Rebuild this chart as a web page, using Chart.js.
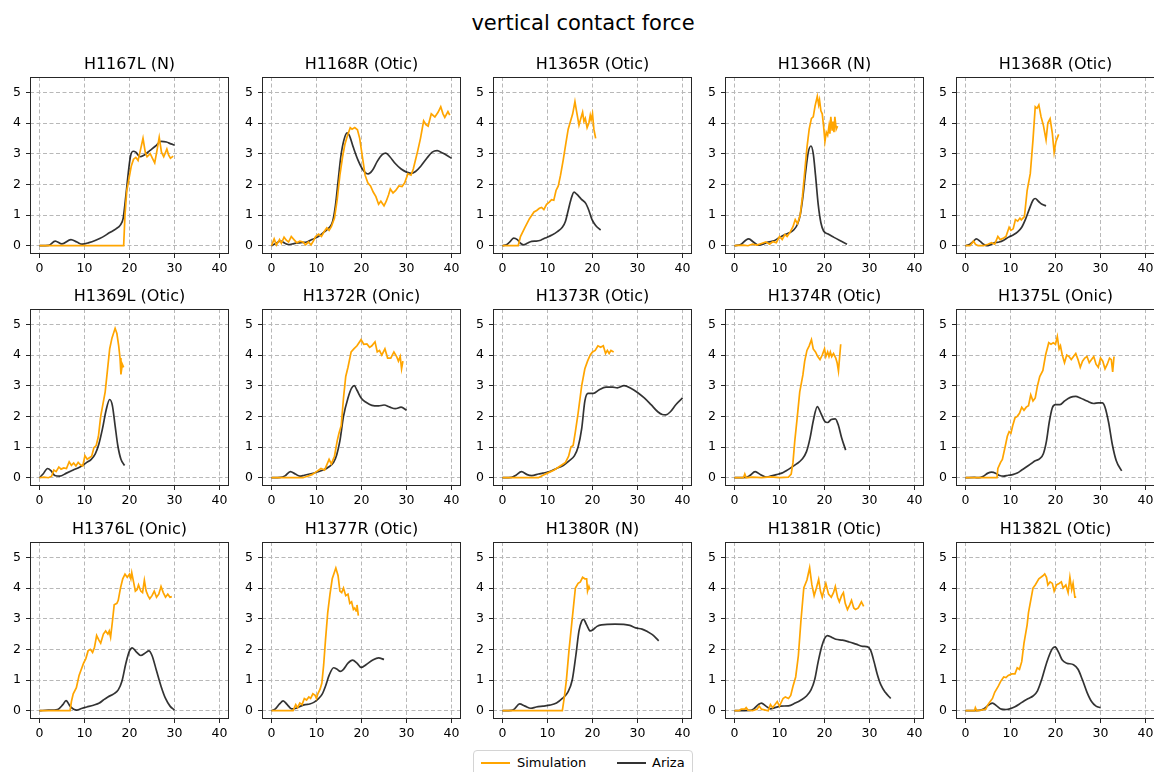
<!DOCTYPE html>
<html lang="en">
<head>
<meta charset="UTF-8">
<title>vertical contact force</title>
<script src="https://cdn.jsdelivr.net/npm/chart.js"></script>
<style>
    body {
        margin: 0;
        background: #fff;
        font-family: 'DejaVu Sans', sans-serif;
    }
    #page {
        position: relative;
        width: 1154px;
        height: 772px;
        overflow: hidden;
    }
    #suptitle {
        position: absolute;
        left: 0;
        width: 1166px;
        top: 11px;
        text-align: center;
        font-size: 21px;
        color: #000;
    }
    canvas {
        position: absolute;
    }
    .legend {
        position: absolute;
        left: 473px;
        top: 750px;
        width: 218px;
        height: 30px;
        border: 1px solid #d4d4d4;
        border-radius: 4px;
        background: #fff;
        font-size: 13px;
        color: #000;
    }
    .legend span {
        position: absolute;
        top: 4px;
    }
    .legend i {
        position: absolute;
        top: 11px;
        width: 29px;
        height: 2px;
    }
</style>
</head>
<body>
<div id="page">
    <div id="suptitle">vertical contact force</div>
    <div class="legend">
        <i style="left:7px;background:#ffa500"></i><span style="left:43px">Simulation</span>
        <i style="left:143px;background:#333"></i><span style="left:178px">Ariza</span>
    </div>
</div>

<script>
// subplot titles, in grid order
const titles = [
    'H1167L (N)', 'H1168R (Otic)', 'H1365R (Otic)', 'H1366R (N)', 'H1368R (Otic)',
    'H1369L (Otic)', 'H1372R (Onic)', 'H1373R (Otic)', 'H1374R (Otic)', 'H1375L (Onic)',
    'H1376L (Onic)', 'H1377R (Otic)', 'H1380R (N)', 'H1381R (Otic)', 'H1382L (Otic)'
];
const seriesNames = ['Simulation', 'Ariza'];
const xTicks = [0, 10, 20, 30, 40];
const yTicks = [0, 1, 2, 3, 4, 5];

// [x, y] samples
const sim1167 = [[0,0],[18.7,0],[19.0,1.0],[19.4,1.8],[19.9,2.2],[20.4,2.6],[20.9,2.82],[21.4,2.88],[21.9,2.78],[22.4,3.1],[23.0,3.5],[23.5,3.05],[23.9,2.9],[24.6,3.0],[25.1,2.85],[25.6,2.7],[26.1,3.1],[26.6,3.53],[27.1,3.05],[27.6,2.9],[28.3,3.15],[28.7,2.95],[29.1,2.85],[29.7,2.92]];
const ari1167 = [[0,0],[2,0.01],[3.5,0.15],[5,0.06],[7,0.2],[8.3,0.12],[9.5,0.05],[11,0.1],[12.5,0.18],[14,0.28],[15.5,0.42],[17,0.55],[18,0.68],[18.6,0.9],[19.1,1.5],[19.6,2.2],[20.2,2.9],[20.8,3.08],[21.4,3.05],[22.3,2.9],[23.2,2.95],[24.5,3.1],[25.8,3.25],[27,3.4],[28.2,3.38],[29.2,3.32],[30,3.28]];

const sim1168 = [[0,0],[0.6,0.22],[1.1,0.02],[1.8,0.2],[2.2,0.08],[2.8,0.28],[3.3,0.18],[3.8,0.12],[4.4,0.3],[5.0,0.2],[5.6,0.1],[6.3,0.15],[7.0,0.12],[7.6,0.03],[8.2,0.12],[8.8,0.03],[9.3,0.15],[9.8,0.3],[10.5,0.38],[11.1,0.3],[11.8,0.48],[12.3,0.58],[12.8,0.5],[13.3,0.62],[14.0,0.9],[14.6,1.5],[15.2,2.3],[15.8,2.9],[16.3,3.3],[16.9,3.6],[17.5,3.85],[17.9,3.8],[18.5,3.85],[19.1,3.78],[19.6,3.5],[20.2,2.9],[20.8,2.3],[21.4,2.05],[22.0,1.95],[22.6,1.75],[23.2,1.6],[23.8,1.35],[24.3,1.45],[25.0,1.3],[25.5,1.45],[26.0,1.65],[26.4,1.85],[27.0,1.72],[27.6,1.8],[28.3,1.95],[29.0,1.93],[29.6,2.05],[30.3,2.35],[31.0,2.3],[31.5,2.5],[32.0,2.8],[32.5,3.1],[33.1,3.5],[33.8,4.07],[34.3,3.95],[34.8,3.9],[35.5,4.3],[36.3,4.2],[37.0,4.35],[37.6,4.53],[38.1,4.3],[38.5,4.18],[39.2,4.37],[39.6,4.26]];
const ari1168 = [[0,0],[1,0.08],[2,0.15],[3,0.08],[3.8,0.04],[5,0.07],[6.5,0.1],[8,0.13],[9,0.2],[10.4,0.3],[11.7,0.45],[12.9,0.6],[13.6,0.8],[14.2,1.3],[14.8,2.1],[15.4,2.9],[16.1,3.45],[16.8,3.68],[17.3,3.6],[18.2,3.2],[19.2,2.8],[20.3,2.48],[21.5,2.34],[22.4,2.45],[23.5,2.75],[24.6,2.97],[25.4,3.02],[26.3,2.9],[27.5,2.68],[28.8,2.5],[30,2.4],[31,2.36],[32,2.42],[33.2,2.6],[34.5,2.85],[35.7,3.05],[36.8,3.1],[38,3.02],[39,2.94],[40,2.85]];

const sim1365 = [[0,0],[3.5,0],[4,0.3],[5,0.6],[6,0.88],[7,1.1],[7.6,1.15],[8.2,1.22],[8.7,1.25],[9.2,1.18],[9.8,1.35],[10.4,1.42],[10.9,1.5],[11.4,1.48],[11.9,1.8],[12.4,1.95],[12.9,2.3],[13.5,2.8],[14.1,3.35],[14.6,3.8],[15.1,4.05],[15.6,4.3],[16.1,4.7],[16.5,4.35],[17.0,3.93],[17.4,4.15],[17.8,4.35],[18.1,4.05],[18.4,4.15],[18.8,3.85],[19.2,4.0],[19.5,4.25],[19.7,4.1],[20.0,4.3],[20.3,3.8],[20.7,3.5]];
const ari1365 = [[0,0],[1,0.04],[1.8,0.15],[2.5,0.25],[3.3,0.2],[4,0.08],[4.7,0.03],[5.5,0.08],[6.5,0.14],[7.5,0.15],[8.5,0.18],[9.5,0.25],[11,0.35],[12.2,0.46],[13.3,0.6],[14,0.8],[14.6,1.15],[15.2,1.5],[15.9,1.75],[16.5,1.68],[17.5,1.52],[18.5,1.38],[19.2,1.15],[19.9,0.85],[20.7,0.66],[21.8,0.51]];

const sim1366 = [[0,0],[2,0.02],[3,0.0],[4,0.05],[5,0.02],[6,0.07],[7,0.12],[7.8,0.05],[8.5,0.13],[9.3,0.1],[10,0.3],[10.6,0.2],[11.2,0.36],[11.7,0.3],[12.4,0.45],[13,0.62],[13.5,0.85],[14,0.72],[14.6,1.0],[15.1,1.6],[15.6,2.4],[16.1,3.2],[16.6,3.8],[17.1,4.15],[17.5,4.2],[17.9,4.55],[18.4,4.87],[18.7,4.6],[18.9,4.75],[19.2,4.4],[19.5,4.3],[19.8,3.9],[20.1,3.4],[20.4,3.7],[20.7,3.6],[21.0,3.9],[21.2,3.65],[21.4,4.2],[21.7,3.75],[21.9,4.05],[22.1,3.7],[22.3,4.2],[22.6,3.8],[22.9,3.9]];
const ari1366 = [[0,0],[1.5,0.05],[2.5,0.18],[3.2,0.22],[4.2,0.12],[5.3,0.02],[6.5,0.06],[7.5,0.12],[8.8,0.16],[9.8,0.25],[11,0.35],[12.2,0.42],[13.2,0.52],[14,0.7],[14.6,1.0],[15.2,1.6],[15.8,2.4],[16.4,3.05],[17,3.25],[17.5,3.0],[18,2.3],[18.6,1.35],[19.2,0.75],[19.8,0.48],[20.8,0.38],[22,0.28],[23.4,0.17],[25,0.05]];

const sim1368 = [[0,0],[1,0],[1.8,0.15],[2.2,0.05],[2.8,0],[4,0],[5,0.05],[5.8,0.1],[6.5,0.05],[7.2,0.3],[7.7,0.2],[8.5,0.25],[9,0.3],[9.7,0.6],[10.1,0.5],[10.6,0.55],[11.1,0.85],[11.6,0.8],[12.1,0.9],[12.4,0.84],[13.1,0.95],[13.7,1.8],[14.4,2.35],[15.0,3.45],[15.5,4.53],[15.9,4.48],[16.3,4.59],[16.8,4.2],[17.3,3.93],[17.9,3.45],[18.3,4.0],[18.8,4.14],[19.3,3.66],[19.7,3.04],[20.1,3.4],[20.7,3.63]];
const ari1368 = [[0,0],[1,0.05],[1.8,0.15],[2.4,0.22],[3.2,0.15],[4,0.05],[4.7,0.0],[5.5,0.03],[6.5,0.1],[7.5,0.12],[8.5,0.18],[9.6,0.28],[10.6,0.35],[11.6,0.45],[12.5,0.6],[13.3,0.85],[14.2,1.2],[15,1.48],[15.5,1.54],[16.2,1.45],[17,1.35],[17.9,1.3]];

const sim1369 = [[0,0],[1,0.02],[2,0.0],[2.7,0.05],[3.2,0.25],[3.7,0.2],[4.3,0.35],[4.8,0.28],[5.4,0.32],[6,0.3],[6.6,0.52],[7.1,0.4],[7.6,0.48],[8.1,0.38],[8.6,0.5],[9.1,0.42],[9.6,0.38],[10.1,0.72],[10.6,0.6],[11.1,0.65],[11.6,0.7],[12.1,0.98],[12.6,1.05],[13.1,1.35],[13.6,2.0],[14.1,2.4],[14.6,2.8],[15.1,3.5],[15.6,4.2],[16.1,4.55],[16.8,4.87],[17.2,4.7],[17.6,4.3],[17.9,3.9],[18.1,3.37],[18.4,3.7],[18.7,3.6]];
const ari1369 = [[0,0],[0.8,0.12],[1.8,0.3],[2.6,0.22],[3.4,0.07],[4.5,0.05],[6,0.15],[7.5,0.25],[9,0.35],[10.5,0.5],[11.5,0.6],[12.4,0.78],[13.2,1.1],[14,1.6],[14.8,2.2],[15.6,2.55],[16.2,2.35],[16.8,1.7],[17.4,1.05],[18.1,0.6],[18.9,0.4]];

const sim1372 = [[0,0],[7,0],[8,0.05],[9,0.1],[10,0.2],[11,0.3],[11.8,0.25],[12.8,0.6],[13.3,0.45],[14,0.7],[14.6,1.2],[15,1.45],[15.5,1.7],[16,2.6],[16.5,3.3],[17,3.6],[17.7,4.1],[18.3,4.2],[19,4.3],[19.9,4.5],[20.5,4.35],[21.2,4.36],[21.8,4.25],[22.3,4.3],[23,4.43],[23.5,4.1],[24,4.15],[24.5,4.0],[25.2,4.2],[25.8,3.9],[26.5,3.9],[27.2,4.1],[27.8,3.95],[28.2,3.8],[28.6,3.95],[28.9,3.55],[29.2,3.8]];
const ari1372 = [[0,0],[2,0.01],[3,0.06],[4.2,0.2],[5.3,0.12],[6.3,0.05],[7.3,0.08],[8.5,0.12],[10,0.18],[11.5,0.25],[12.7,0.35],[13.8,0.5],[14.5,0.75],[15.2,1.2],[16,2.0],[17,2.6],[17.8,2.92],[18.4,3.0],[19,2.85],[20,2.58],[21,2.46],[22.3,2.36],[23.8,2.34],[25,2.37],[26.3,2.3],[27.5,2.25],[28.8,2.3],[30,2.2]];

const sim1373 = [[0,0],[8,0],[9,0.08],[10,0.15],[11.5,0.25],[12.5,0.35],[14,0.5],[14.7,0.7],[15.2,1.0],[15.7,1.05],[16.2,1.5],[16.8,2.1],[17.6,3.0],[18.3,3.55],[18.9,3.8],[19.5,4.0],[20,4.1],[20.6,4.15],[21.2,4.3],[21.8,4.25],[22.4,4.3],[22.9,4.05],[23.3,4.15],[23.7,4.05],[24.1,4.15],[24.7,4.1]];
const ari1373 = [[0,0],[2,0.01],[3,0.08],[4.2,0.2],[5.5,0.1],[6.5,0.07],[8,0.12],[9,0.15],[10.5,0.2],[12,0.3],[13.5,0.4],[14.8,0.55],[16,0.72],[16.8,1.0],[17.6,1.6],[18.3,2.5],[19,2.75],[20.2,2.75],[21.5,2.87],[23,2.95],[24.5,2.95],[25.5,2.93],[27,3.0],[28.5,2.92],[30,2.78],[31.5,2.6],[33,2.38],[34.5,2.15],[35.5,2.06],[36.3,2.05],[37.3,2.15],[38.5,2.38],[40,2.6]];

const sim1374 = [[0,0],[2,0],[2.3,0.12],[2.6,0],[4,0.02],[6,0],[8,0.03],[10,0],[12,0.02],[12.6,0.12],[13.0,0.5],[13.4,1.2],[13.9,1.9],[14.5,2.8],[15.2,3.35],[15.6,3.8],[16.1,4.15],[16.6,4.3],[17.1,4.5],[17.5,4.2],[18,4.1],[18.5,3.95],[19,3.85],[19.5,4.0],[20,4.2],[20.3,3.95],[20.7,4.1],[21,3.95],[21.3,4.1],[21.6,3.95],[22,4.05],[22.5,3.9],[22.8,3.75],[23.1,3.48],[23.4,4.0],[23.6,4.35]];
const ari1374 = [[0,0],[2.5,0.01],[3.4,0.07],[4.6,0.2],[5.8,0.1],[7,0.02],[8,0.05],[9.3,0.1],[10.5,0.15],[11.5,0.23],[12.5,0.32],[13.8,0.45],[15,0.6],[16,0.85],[16.8,1.3],[17.5,1.85],[18.4,2.32],[19.2,2.1],[20,1.85],[20.7,1.8],[21.5,1.9],[22.4,1.92],[23.1,1.7],[23.8,1.3],[24.7,0.9]];

const sim1375 = [[0,0],[7,0],[7.2,0.3],[7.8,0.5],[8.2,0.6],[8.8,1.0],[9.3,1.35],[9.7,1.5],[10.1,1.45],[10.5,1.7],[11,1.95],[11.5,2.0],[12,2.1],[12.5,2.3],[13,2.2],[13.5,2.3],[14,2.35],[14.5,2.7],[15,2.5],[15.5,2.6],[16,3.0],[16.5,3.3],[17.2,3.5],[17.8,4.0],[18.5,4.4],[19,4.35],[19.5,4.4],[20,4.35],[20.4,4.6],[20.8,4.2],[21.1,4.3],[21.5,4.0],[22,3.75],[22.5,4.0],[23,3.95],[23.5,3.85],[24,3.95],[24.5,4.05],[25,3.85],[25.5,3.6],[26,3.8],[26.5,3.9],[27,3.95],[27.5,3.75],[28,3.85],[28.5,3.95],[29,3.7],[29.5,3.6],[30,3.9],[30.5,3.8],[31,3.55],[31.5,3.7],[32,3.9],[32.4,3.85],[32.7,3.45],[33,3.95]];
const ari1375 = [[0,0],[2,0.01],[3,0.0],[4,0.05],[5,0.15],[5.8,0.18],[6.8,0.14],[7.6,0.07],[8.5,0.05],[9.5,0.08],[10.5,0.1],[11.5,0.15],[12.5,0.25],[13.5,0.35],[14.5,0.45],[15.5,0.55],[16.5,0.62],[17.3,0.78],[18,1.2],[18.6,1.8],[19.3,2.28],[20,2.38],[21,2.38],[22,2.5],[23.3,2.62],[24.5,2.65],[25.5,2.6],[27,2.5],[28.5,2.42],[29.5,2.44],[30.4,2.44],[31,2.3],[31.8,1.8],[32.6,1.1],[33.5,0.55],[34.7,0.22]];

const sim1376 = [[0,0],[6.8,0],[7.1,0.3],[7.5,0.55],[8.2,0.75],[8.8,1.15],[9.3,1.35],[9.8,1.55],[10.3,1.7],[10.8,1.95],[11.3,2.0],[11.8,1.9],[12.2,2.05],[12.7,2.45],[13.2,2.3],[13.6,2.2],[14.2,2.5],[14.7,2.6],[15.2,2.5],[15.5,2.6],[15.8,2.4],[16.2,2.9],[16.6,3.45],[17.2,3.5],[17.5,3.6],[18,4.0],[18.5,4.3],[19,4.45],[19.5,4.35],[20,4.45],[20.3,4.3],[20.5,4.5],[20.9,4.2],[21.3,3.9],[21.7,3.95],[22,4.1],[22.5,3.9],[22.9,3.85],[23.3,4.25],[23.7,3.9],[24.1,3.75],[24.5,3.65],[25,3.75],[25.5,3.9],[26,3.7],[26.5,3.8],[27,4.05],[27.5,3.85],[28,3.7],[28.5,3.8],[29,3.7],[29.4,3.72]];
const ari1376 = [[0,0],[2,0.02],[4,0.04],[5.2,0.2],[5.9,0.33],[6.8,0.15],[7.6,0.05],[8.3,0.02],[9.5,0.08],[10.5,0.12],[12,0.18],[13.3,0.25],[14.2,0.35],[15.2,0.45],[16.5,0.55],[17.5,0.68],[18.3,0.95],[19.2,1.55],[20,1.95],[20.6,2.05],[21.5,1.92],[22.5,1.8],[23.5,1.88],[24.3,1.95],[25,1.8],[26,1.3],[27,0.8],[28,0.4],[29,0.15],[30,0.02]];

const sim1377 = [[0,0],[4.8,0],[5.4,0.2],[5.8,0.1],[6.3,0.25],[6.8,0.2],[7.3,0.4],[7.8,0.35],[8.3,0.45],[8.7,0.4],[9.2,0.55],[9.7,0.5],[10,0.4],[10.3,0.55],[10.8,0.7],[11.2,0.9],[11.6,1.5],[12,2.3],[12.5,3.2],[13,3.8],[13.5,4.3],[14.3,4.65],[14.8,4.4],[15.2,3.9],[15.6,3.85],[16,4.0],[16.5,3.75],[17,3.8],[17.4,3.5],[17.8,3.55],[18.2,3.3],[18.5,3.35],[18.8,3.25],[19.0,3.45],[19.3,3.1]];
const ari1377 = [[0,0],[0.8,0.05],[1.8,0.22],[2.6,0.32],[3.5,0.2],[4.5,0.06],[5.5,0.08],[6.5,0.15],[7.5,0.2],[8.5,0.22],[9.5,0.28],[10.5,0.4],[11.3,0.55],[12,0.8],[12.8,1.15],[13.8,1.4],[14.5,1.36],[15.3,1.28],[16,1.35],[17,1.55],[18,1.65],[19,1.55],[19.9,1.41],[21,1.5],[22.5,1.65],[23.8,1.72],[25,1.67]];

const sim1380 = [[0,0],[13.3,0],[13.8,0.5],[14.2,1.0],[14.8,2.0],[15.5,3.0],[16.2,4.0],[16.8,4.15],[17.3,4.2],[17.8,4.35],[18.3,4.3],[18.7,4.3],[18.9,3.9],[19.2,4.05],[19.4,3.95]];
const ari1380 = [[0,0],[2,0.01],[2.7,0.06],[3.8,0.22],[5,0.15],[6.3,0.08],[7.5,0.12],[9,0.15],[10.5,0.18],[12,0.25],[13.3,0.4],[14.5,0.6],[15.5,1.0],[16.3,1.8],[17,2.6],[17.6,2.92],[18,2.98],[18.7,2.8],[19.5,2.6],[20.2,2.65],[21,2.75],[22,2.8],[25,2.82],[28.3,2.78],[29.6,2.7],[31,2.66],[32.2,2.58],[33.3,2.48],[34.7,2.28]];

const sim1381 = [[0,0],[1,0],[1.5,0.05],[2.3,0.05],[2.6,0.1],[3,0.02],[4,0],[5,0.05],[5.5,0.15],[6,0.05],[7.5,0.0],[8,0.2],[8.5,0.1],[9.5,0.3],[10,0.15],[10.8,0.4],[11.3,0.45],[12,0.4],[12.5,0.5],[13,0.8],[13.6,1.1],[14.2,1.8],[14.75,2.9],[15.4,4.0],[16.1,4.26],[16.7,4.66],[17.2,4.1],[17.7,3.75],[18.2,4.0],[18.7,4.28],[19.1,3.9],[19.5,3.7],[19.9,3.95],[20.3,4.15],[20.9,3.8],[21.5,3.7],[22,3.85],[22.4,4.05],[22.9,3.7],[23.3,3.55],[23.8,3.75],[24.2,3.85],[24.6,3.5],[25.1,3.3],[25.6,3.45],[26,3.6],[26.5,3.35],[26.9,3.3],[27.5,3.35],[28.2,3.55],[28.7,3.4]];
const ari1381 = [[0,0],[3.5,0.01],[4.3,0.06],[5.3,0.2],[6,0.25],[7,0.15],[8,0.06],[9,0.1],[10.3,0.15],[12,0.16],[13.5,0.25],[14.8,0.35],[16,0.48],[17,0.68],[17.8,1.0],[18.6,1.6],[19.4,2.1],[20,2.35],[20.6,2.45],[21.5,2.4],[22.5,2.33],[24,2.3],[25.5,2.24],[27,2.17],[28.5,2.1],[29.6,2.08],[30.3,1.95],[31,1.6],[31.7,1.2],[32.5,0.85],[33.5,0.6],[34.7,0.4]];

const sim1382 = [[0,0],[2,0],[2.2,0.1],[2.5,0],[3.5,0.02],[4.5,0.05],[5,0.2],[5.5,0.3],[6,0.4],[6.5,0.6],[7.3,0.8],[7.8,0.95],[8.5,1.1],[9,1.08],[9.5,1.15],[10.3,1.2],[11,1.2],[11.5,1.4],[12,1.35],[12.5,1.6],[13,2.2],[13.7,2.8],[14,3.2],[15,4.0],[15.5,4.1],[16.3,4.3],[17.2,4.4],[17.6,4.46],[18,4.35],[18.3,4.1],[18.8,4.2],[19.3,4.15],[19.7,3.9],[20.2,4.1],[20.8,4.15],[21.3,4.2],[21.7,4.0],[22.3,4.1],[22.8,3.85],[23.2,4.35],[23.6,3.95],[23.9,4.15],[24.3,3.7],[24.6,3.7]];
const ari1382 = [[0,0],[3,0.01],[4,0.06],[5.3,0.2],[6,0.25],[7,0.15],[8,0.05],[9,0.04],[10,0.07],[11,0.13],[12,0.22],[13,0.32],[14,0.4],[15,0.48],[16,0.65],[17,1.05],[18,1.55],[19.2,2.0],[19.9,2.08],[20.7,1.9],[21.5,1.65],[22.5,1.55],[24,1.5],[25,1.35],[26,1.0],[27,0.6],[28,0.3],[29,0.15],[30,0.1]];

const simData = [sim1167, sim1168, sim1365, sim1366, sim1368, sim1369, sim1372, sim1373, sim1374, sim1375, sim1376, sim1377, sim1380, sim1381, sim1382];
const arizaData = [ari1167, ari1168, ari1365, ari1366, ari1368, ari1369, ari1372, ari1373, ari1374, ari1375, ari1376, ari1377, ari1380, ari1381, ari1382];

// plot area placement in the figure
const colLeft = [30, 262, 493, 725, 956];
const rowTop = [77, 309, 542];
const plotW = 199, plotH = 177;
const padL = 32, padT = 32, padR = 32, padB = 26;

const ink = '#262626';
const font = { family: "'DejaVu Sans', sans-serif", size: 12.5 };

// matplotlib style closed frame (the axis borders themselves are switched off)
const framePlugin = {
    id: 'frame',
    afterDraw(chart) {
        const a = chart.chartArea, ctx = chart.ctx;
        ctx.save();
        ctx.strokeStyle = ink;
        ctx.lineWidth = 1;
        ctx.strokeRect(Math.round(a.left) + 0.5, Math.round(a.top) + 0.5,
            Math.round(a.right - a.left) - 1, Math.round(a.bottom - a.top) - 1);
        ctx.restore();
    }
};

const page = document.getElementById('page');

titles.forEach((title, i) => {
    const col = i % 5, row = Math.floor(i / 5);
    const canvas = document.createElement('canvas');
    canvas.width = padL + plotW + padR;
    canvas.height = padT + plotH + padB;
    canvas.style.left = (colLeft[col] - padL) + 'px';
    canvas.style.top = (rowTop[row] - padT) + 'px';
    page.appendChild(canvas);

    new Chart(canvas, {
        type: 'line',
        data: {
            datasets: [{
                label: seriesNames[0],
                data: simData[i],
                borderColor: '#ffa500',
                borderWidth: 1.7,
                pointRadius: 0,
                tension: 0
            }, {
                label: seriesNames[1],
                data: arizaData[i],
                borderColor: 'rgba(0,0,0,0.8)',
                borderWidth: 1.7,
                pointRadius: 0,
                cubicInterpolationMode: 'monotone'
            }]
        },
        options: {
            responsive: false,
            animation: false,
            devicePixelRatio: 1,
            layout: { padding: { left: 0, right: padR, top: 0, bottom: 0 } },
            plugins: {
                legend: { display: false },
                tooltip: { enabled: false },
                title: {
                    display: true,
                    text: title,
                    fullSize: false,
                    color: '#000',
                    font: { family: font.family, size: 16, weight: 'normal', lineHeight: 1.2 },
                    padding: { top: 10.3, bottom: 2.5 }
                }
            },
            scales: {
                x: {
                    type: 'linear',
                    min: -2.1,
                    max: 42.1,
                    afterBuildTicks: s => { s.ticks = xTicks.map(v => ({ value: v })); },
                    afterFit: s => { s.height = padB; },
                    ticks: { color: '#000', font: font, padding: 3, maxRotation: 0 },
                    grid: { color: '#b8b8b8', lineWidth: 1, tickColor: ink, tickLength: 4 },
                    border: { display: false, dash: [4, 2.5] }
                },
                y: {
                    min: -0.27,
                    max: 5.5,
                    afterBuildTicks: s => { s.ticks = yTicks.map(v => ({ value: v })); },
                    afterFit: s => { s.width = padL; },
                    ticks: { color: '#000', font: font, padding: 5 },
                    grid: { color: '#b8b8b8', lineWidth: 1, tickColor: ink, tickLength: 4 },
                    border: { display: false, dash: [4, 2.5] }
                }
            }
        },
        plugins: [framePlugin]
    });
});
</script>
</body>
</html>
